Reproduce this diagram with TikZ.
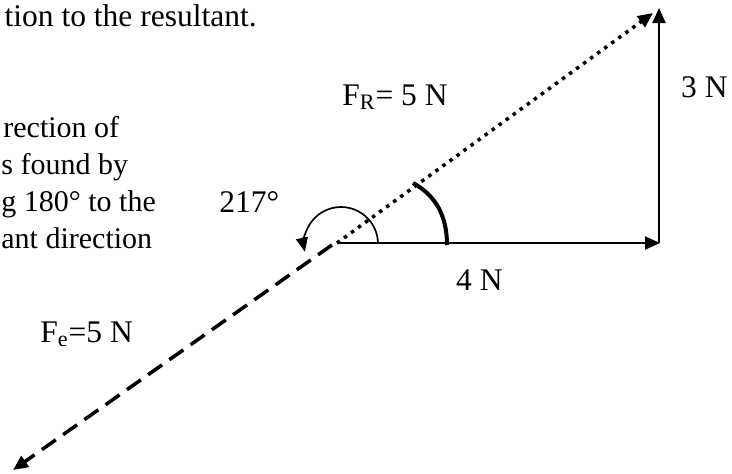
\documentclass[tikz,border=0pt]{standalone}
\usepackage{fontspec}
\setmainfont{Liberation Serif}
\usetikzlibrary{arrows.meta}
\begin{document}
\begin{tikzpicture}[x=0.5pt,y=-0.5pt,
  txt/.style={inner sep=0pt, font=\fontsize{15.75}{18}\selectfont},
  para/.style={inner sep=0pt, font=\fontsize{15}{18}\selectfont},
  tip/.style={-{Triangle[length=7.5pt,width=6.5pt]}},
  vec/.style={tip, line width=1pt},
  resultant/.style={tip, line width=1.75pt, dash pattern=on 1.75pt off 2.6pt},
  equil/.style={tip, line width=1.75pt, dash pattern=on 8.5pt off 4.5pt},
  thinarc/.style={-{Triangle[length=7pt,width=6pt]}, line width=0.85pt},
  thickarc/.style={line width=2pt}
]
\useasboundingbox (0,0) rectangle (732,473);

% points
\coordinate (O) at (337,243);
\coordinate (A) at (660,243);
\coordinate (Av) at (659,243);
\coordinate (B) at (659,8);
\coordinate (T) at (653,13);
\coordinate (D) at (332,245);
\coordinate (E) at (13,470);
\coordinate (S1) at (378,244);
\coordinate (K1) at (447,245);
\coordinate (K2) at (413,183);

% text
\node[txt, anchor=base east] (top) at (257,26) {tion to the resultant.};
\node[para, anchor=base west] (l1) at (3,137) {rection of};
\node[para, anchor=base west] (l2) at (1,174) {s found by};
\node[para, anchor=base west] (l3) at (1,211) {g 180° to the};
\node[para, anchor=base west] (l4) at (1,248) {ant direction};

\node[txt, anchor=base east] (fr) at (448,105) {F\textsubscript{R}= 5 N};
\node[txt, anchor=base east] (three) at (728,97) {3 N};
\node[txt, anchor=base west] (ang) at (219,212) {217°};
\node[txt, anchor=base east] (four) at (503,290) {4 N};
\node[txt, anchor=base west] (fe) at (40,342) {F\textsubscript{e}=5 N};

% vectors
\draw[vec] (O) -- (A);
\draw[vec] (Av) -- (B);
\draw[resultant] (O) -- (T);
\draw[equil] (D) -- (E);

% angle arcs
\draw[thinarc] (S1) arc[start angle=0, end angle=-192, radius=37];
\draw[thickarc] (K1) .. controls (447,215) and (435,195) .. (K2);
\end{tikzpicture}
\end{document}
